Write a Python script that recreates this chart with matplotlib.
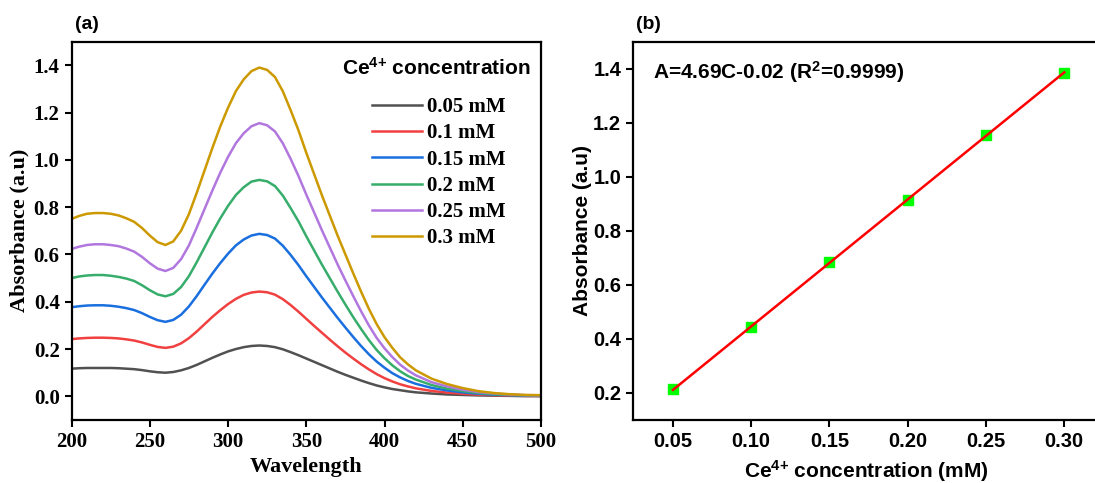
import numpy as np
import matplotlib
matplotlib.use("Agg")
import matplotlib.pyplot as plt
from matplotlib.font_manager import FontProperties

# mathtext in Arial-like bold (for superscripts)
plt.rcParams["mathtext.fontset"] = "custom"
plt.rcParams["mathtext.rm"] = "Liberation Sans:bold"
plt.rcParams["mathtext.bf"] = "Liberation Sans:bold"
plt.rcParams["mathtext.it"] = "Liberation Sans:bold"

# ---- (a) UV-vis spectra ----
wavelength = [200, 205, 210, 215, 220, 225, 230, 235, 240, 245,
              250, 255, 260, 265, 270, 275, 280, 285, 290, 295,
              300, 305, 310, 315, 320, 325, 330, 335, 340, 345,
              350, 355, 360, 365, 370, 375, 380, 385, 390, 395,
              400, 405, 410, 415, 420, 430, 440, 450, 460, 470,
              480, 490, 500]

abs_005 = [0.117, 0.119, 0.120, 0.120, 0.120, 0.120, 0.119, 0.117, 0.115, 0.111,
           0.106, 0.102, 0.100, 0.103, 0.110, 0.120, 0.133, 0.148, 0.163, 0.177,
           0.190, 0.200, 0.208, 0.213, 0.215, 0.213, 0.208, 0.199, 0.187, 0.174,
           0.160, 0.146, 0.132, 0.118, 0.104, 0.091, 0.079, 0.067, 0.056, 0.046,
           0.038, 0.031, 0.026, 0.021, 0.017, 0.012, 0.008, 0.006, 0.004, 0.003,
           0.002, 0.001, 0.001]
abs_010 = [0.242, 0.245, 0.247, 0.248, 0.248, 0.247, 0.245, 0.241, 0.236, 0.228,
           0.218, 0.209, 0.205, 0.210, 0.224, 0.246, 0.274, 0.305, 0.336, 0.364,
           0.390, 0.412, 0.429, 0.439, 0.443, 0.440, 0.430, 0.411, 0.386, 0.358,
           0.328, 0.298, 0.269, 0.240, 0.212, 0.185, 0.160, 0.136, 0.114, 0.094,
           0.077, 0.063, 0.051, 0.042, 0.034, 0.023, 0.016, 0.011, 0.007, 0.005,
           0.003, 0.002, 0.002]
abs_015 = [0.377, 0.381, 0.384, 0.385, 0.385, 0.383, 0.379, 0.373, 0.365, 0.352,
           0.336, 0.322, 0.315, 0.323, 0.345, 0.380, 0.424, 0.472, 0.519, 0.563,
           0.603, 0.638, 0.663, 0.680, 0.687, 0.682, 0.667, 0.637, 0.598, 0.555,
           0.508, 0.463, 0.418, 0.375, 0.332, 0.291, 0.251, 0.213, 0.178, 0.147,
           0.121, 0.098, 0.080, 0.065, 0.053, 0.036, 0.025, 0.017, 0.011, 0.007,
           0.005, 0.003, 0.002]
abs_020 = [0.500, 0.507, 0.511, 0.513, 0.513, 0.510, 0.505, 0.498, 0.488, 0.470,
           0.449, 0.431, 0.423, 0.433, 0.462, 0.508, 0.567, 0.630, 0.693, 0.752,
           0.805, 0.851, 0.884, 0.908, 0.915, 0.909, 0.889, 0.849, 0.796, 0.740,
           0.677, 0.617, 0.557, 0.500, 0.443, 0.388, 0.335, 0.285, 0.238, 0.196,
           0.161, 0.131, 0.106, 0.086, 0.071, 0.048, 0.033, 0.022, 0.014, 0.009,
           0.006, 0.004, 0.003]
abs_025 = [0.623, 0.633, 0.640, 0.643, 0.643, 0.640, 0.635, 0.625, 0.612, 0.590,
           0.563, 0.540, 0.530, 0.543, 0.580, 0.638, 0.713, 0.792, 0.870, 0.945,
           1.012, 1.070, 1.112, 1.142, 1.155, 1.146, 1.120, 1.070, 1.004, 0.932,
           0.853, 0.778, 0.702, 0.630, 0.558, 0.490, 0.424, 0.360, 0.300, 0.247,
           0.203, 0.166, 0.134, 0.109, 0.089, 0.060, 0.042, 0.028, 0.018, 0.012,
           0.008, 0.005, 0.004]
abs_030 = [0.750, 0.763, 0.772, 0.775, 0.775, 0.772, 0.765, 0.753, 0.738, 0.712,
           0.680, 0.652, 0.640, 0.655, 0.700, 0.770, 0.860, 0.955, 1.050, 1.140,
           1.220, 1.290, 1.340, 1.375, 1.390, 1.380, 1.350, 1.290, 1.210, 1.125,
           1.030, 0.940, 0.850, 0.765, 0.680, 0.600, 0.520, 0.443, 0.370, 0.305,
           0.250, 0.205, 0.165, 0.135, 0.110, 0.075, 0.052, 0.035, 0.022, 0.014,
           0.009, 0.006, 0.005]

spectra = [abs_005, abs_010, abs_015, abs_020, abs_025, abs_030]
labels = ["0.05 mM", "0.1 mM", "0.15 mM", "0.2 mM", "0.25 mM", "0.3 mM"]
colors = ["#515151", "#F14040", "#1A6FDF", "#37AD6B", "#B177DE", "#CC9900"]

# ---- (b) calibration ----
conc = [0.05, 0.10, 0.15, 0.20, 0.25, 0.30]
absorbance = [0.213, 0.443, 0.683, 0.915, 1.153, 1.385]

serif = {"family": "Liberation Serif", "weight": "bold"}
sans = {"family": "Liberation Sans", "weight": "bold"}
ce = r"Ce$^{\text{4+}}$"

fig = plt.figure(figsize=(10.95, 4.83), dpi=100)
ax1 = fig.add_axes([0.0653, 0.1304, 0.4288, 0.7836])
ax2 = fig.add_axes([0.5781, 0.1304, 0.4260, 0.7836])

for y, lab, c in zip(spectra, labels, colors):
    ax1.plot(wavelength, y, color=c, lw=1.8, label=lab, solid_joinstyle="round")

ax1.set_xlim(200, 500)
ax1.set_ylim(-0.1, 1.5)
ax1.set_xticks([200, 250, 300, 350, 400, 450, 500])
ax1.set_yticks([0.0, 0.2, 0.4, 0.6, 0.8, 1.0, 1.2, 1.4])
ax1.set_yticklabels([f"{v:.1f}" for v in ax1.get_yticks()])
ax1.set_xlabel("Wavelength", fontsize=16, labelpad=4, **serif)
ax1.set_ylabel("Absorbance (a.u)", fontsize=16, labelpad=3, **serif)
for lbl in ax1.get_xticklabels() + ax1.get_yticklabels():
    lbl.set_fontproperties(FontProperties(size=15, **serif))

ax1.legend(loc="upper right", frameon=False,
           prop=FontProperties(size=15, **serif),
           handlelength=2.4, handletextpad=0.25, labelspacing=0.3,
           bbox_to_anchor=(0.9425, 0.875), borderaxespad=0.0)
ax1.text(0.776, 0.930, ce + " concentration", transform=ax1.transAxes,
         fontsize=15, ha="center", va="center", **sans)

ax1.text(0.007, 1.046, "(a)", transform=ax1.transAxes, fontsize=14, ha="left",
         va="center", **sans)

# fit line
slope, intercept = np.polyfit(conc, absorbance, 1)
fit_x = np.array([conc[0], conc[-1]])
ax2.plot(conc, absorbance, ls="none", marker="s", ms=6.5, color="#00FF00",
         mec="#00FF00", zorder=2)
ax2.plot(fit_x, slope * fit_x + intercept, color="#FF0000", lw=1.8, zorder=3)

ax2.set_xlim(0.0245, 0.3225)
ax2.set_ylim(0.1, 1.5)
ax2.set_xticks(conc)
ax2.set_xticklabels([f"{v:.2f}" for v in conc])
ax2.set_yticks([0.2, 0.4, 0.6, 0.8, 1.0, 1.2, 1.4])
ax2.set_yticklabels([f"{v:.1f}" for v in ax2.get_yticks()])
for lbl in ax2.get_xticklabels() + ax2.get_yticklabels():
    lbl.set_fontproperties(FontProperties(size=14.5, **sans))
ax2.set_xlabel(ce + " concentration (mM)", fontsize=15, labelpad=5, **sans)
ax2.set_ylabel("Absorbance (a.u)", fontsize=15, labelpad=1, **sans)
ax2.text(0.043, 0.92, "A=4.69C-0.02 (R$^2$=0.9999)", transform=ax2.transAxes,
         fontsize=15, ha="left", va="center", **sans)
ax2.text(0.006, 1.046, "(b)", transform=ax2.transAxes, fontsize=14, ha="left",
         va="center", **sans)

for ax in (ax1, ax2):
    for s in ax.spines.values():
        s.set_linewidth(1.6)
    ax.tick_params(direction="out", length=5, width=1.5)

fig.savefig("out.png", dpi=100)
